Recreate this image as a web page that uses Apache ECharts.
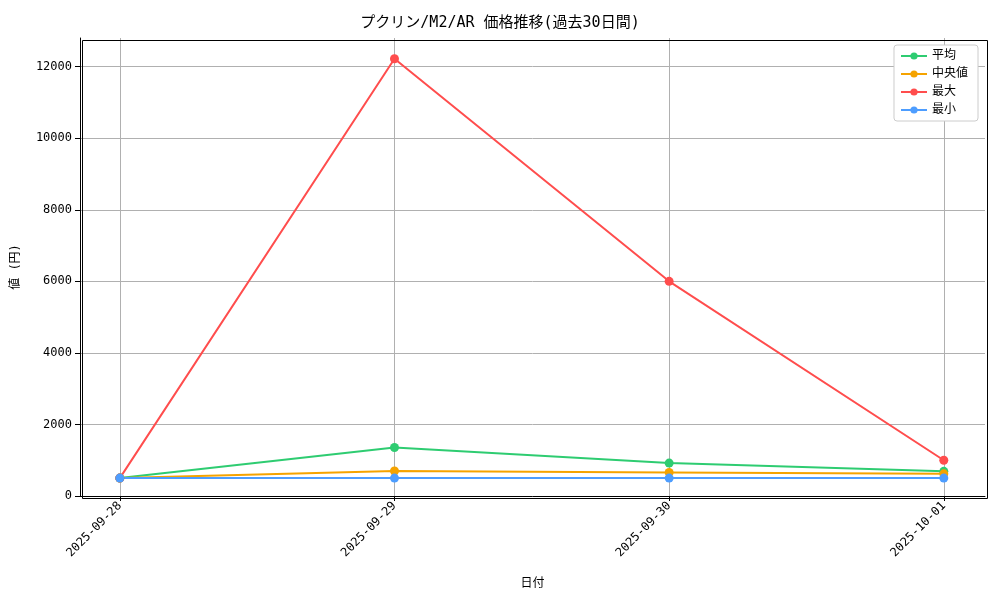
<!DOCTYPE html>
<html><head><meta charset="utf-8">
<script src="https://cdn.jsdelivr.net/npm/echarts@6/dist/echarts.min.js"></script>
<style>html,body{margin:0;background:#fff}#c{width:1000px;height:600px}</style>
</head><body><div id="c"></div>
<script>
var dates = ['2025-09-28', '2025-09-29', '2025-09-30', '2025-10-01'];
var avgVals = [500, 1355, 920, 690];
var medVals = [500, 700, 660, 620];
var maxVals = [500, 12220, 6000, 1000];
var minVals = [500, 500, 500, 500];
var yTicks = [0, 2000, 4000, 6000, 8000, 10000, 12000];

var font = '"DejaVu Sans Mono", "Noto Sans CJK JP", monospace';

function pts(arr){
  return arr.map(function(v, i){ return [i, v]; });
}
function line(name, arr, color){
  return {
    name: name, type: 'line', data: pts(arr),
    symbol: 'circle', symbolSize: 9,
    lineStyle: {color: color, width: 2},
    itemStyle: {color: color},
    emphasis: {disabled: true}
  };
}

var chart = echarts.init(document.getElementById('c'));
chart.setOption({
  animation: false,
  textStyle: {fontFamily: font},
  title: {
    text: 'プクリン/M2/AR 価格推移(過去30日間)', left: 'center', top: 11,
    textStyle: {fontSize: 15, fontWeight: 'normal', color: '#000', fontFamily: font}
  },
  legend: {
    orient: 'vertical', right: 22, top: 45,
    itemWidth: 26, itemHeight: 9, itemGap: 6,
    backgroundColor: '#fff', borderColor: '#ccc', borderWidth: 1, borderRadius: 3,
    padding: [5, 10, 5, 6],
    textStyle: {fontSize: 12, color: '#000', fontFamily: font},
    data: ['平均', '中央値', '最大', '最小']
  },
  grid: {left: 80, right: 15, top: 38, bottom: 104},
  xAxis: {
    type: 'value', min: -0.145, max: 3.15,
    name: '日付', nameLocation: 'middle', nameGap: 82,
    nameTextStyle: {fontSize: 12, color: '#000', fontFamily: font},
    axisLine: {show: true, onZero: false, lineStyle: {color: '#000'}},
    axisTick: {show: true, customValues: [0, 1, 2, 3], lineStyle: {color: '#000'}},
    axisLabel: {
      customValues: [0, 1, 2, 3], rotate: 45, color: '#000', fontSize: 12, fontFamily: font,
      formatter: function(v){ return dates[Math.round(v)]; }
    },
    splitLine: {show: true, lineStyle: {color: '#b0b0b0'}}
  },
  yAxis: {
    type: 'value', min: 0, max: 12800, interval: 2000,
    name: '値 (円)', nameLocation: 'middle', nameGap: 58, nameRotate: 90,
    nameTextStyle: {fontSize: 12, color: '#000', fontFamily: font},
    axisLine: {show: true, onZero: false, lineStyle: {color: '#000'}},
    axisTick: {show: true, customValues: yTicks, lineStyle: {color: '#000'}},
    axisLabel: {customValues: yTicks, color: '#000', fontSize: 12, fontFamily: font,
      formatter: function(v){ return String(v); }},
    splitLine: {show: true, lineStyle: {color: '#b0b0b0'}}
  },
  graphic: [{
    type: 'rect', left: 80, top: 38, silent: true, z: 100,
    shape: {width: 905, height: 458},
    style: {fill: 'none', stroke: '#000', lineWidth: 1}
  }],
  series: [
    line('平均', avgVals, '#2ecc71'),
    line('中央値', medVals, '#f5a300'),
    line('最大', maxVals, '#ff4d4d'),
    line('最小', minVals, '#4d9dff')
  ]
});
</script></body></html>
